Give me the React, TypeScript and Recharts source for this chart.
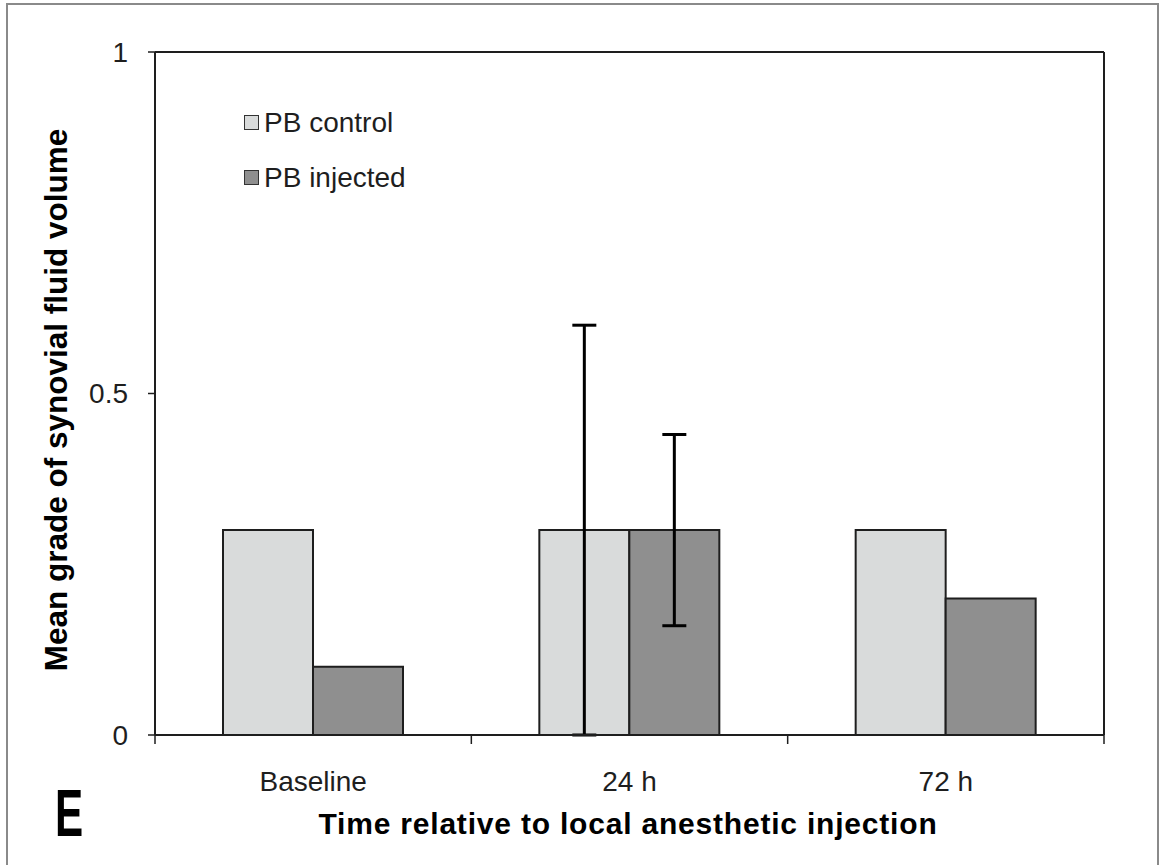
import React from "react";
import {
  BarChart,
  Bar,
  XAxis,
  YAxis,
  ErrorBar,
  Legend,
  ReferenceLine,
} from "recharts";

const categories = ["Baseline", "24 h", "72 h"];
const controlMean = [0.3, 0.3, 0.3];
const controlErr = [0, 0.3, 0];
const injectedMean = [0.1, 0.3, 0.2];
const injectedErr = [0, 0.14, 0];
const yTicks = [0, 0.5, 1];

const FONT = "'Liberation Sans', Arial, sans-serif";
const LIGHT = "#d9dbdb";
const DARK = "#8f8f8f";
const INK = "#1e1e1e";
const LABEL_GAP = 36;

const data = categories.map((name, i) => ({
  name,
  control: controlMean[i],
  controlErr: controlErr[i],
  injected: injectedMean[i],
  injectedErr: injectedErr[i],
}));

function LegendBox({ payload }: any) {
  return (
    <div style={{ fontFamily: FONT, fontSize: 28, color: INK }}>
      {(payload || []).map((p: any) => (
        <div
          key={p.value}
          style={{ display: "flex", alignItems: "center", height: 55 }}
        >
          <span
            style={{
              display: "inline-block",
              width: 13,
              height: 13,
              background: p.color,
              border: "1.5px solid #333",
              marginRight: 5,
            }}
          />
          {p.value}
        </div>
      ))}
    </div>
  );
}

// category label, plus tick marks on the band edges (Excel style)
function CategoryTick(props: any) {
  const { x, y, payload, width, visibleTicksCount, index } = props;
  const half =
    payload && payload.offset ? payload.offset : width / visibleTicksCount / 2;
  const axisY = y - LABEL_GAP;
  return (
    <g>
      <line
        x1={x + half}
        x2={x + half}
        y1={axisY - 1}
        y2={axisY + 9}
        stroke={INK}
        strokeWidth={1.5}
      />
      {index === 0 && (
        <line
          x1={x - half}
          x2={x - half}
          y1={axisY - 1}
          y2={axisY + 9}
          stroke={INK}
          strokeWidth={1.5}
        />
      )}
      <text
        x={x}
        y={y}
        dy="0.71em"
        textAnchor="middle"
        fontSize={28}
        fill={INK}
        fontFamily={FONT}
      >
        {payload.value}
      </text>
    </g>
  );
}

export default function App() {
  return (
    <div
      style={{
        position: "absolute",
        left: 0,
        top: 0,
        width: 1160,
        height: 865,
        background: "#fff",
        overflow: "hidden",
      }}
    >
      <div
        style={{
          position: "absolute",
          left: 6,
          top: 3,
          width: 1149,
          height: 900,
          border: "2px solid #8a8a8a",
        }}
      />
      <BarChart
        width={1160}
        height={865}
        data={data}
        margin={{ top: 52, right: 55, left: 75, bottom: 129 }}
        barCategoryGap={68}
        barGap={0}
        style={{ position: "absolute", left: 0, top: 0 }}
      >
        <XAxis
          dataKey="name"
          height={1}
          interval={0}
          tickLine={false}
          tickSize={0}
          tickMargin={LABEL_GAP}
          axisLine={{ stroke: INK, strokeWidth: 2 }}
          tick={<CategoryTick />}
        />
        <YAxis
          width={80}
          domain={[0, 1]}
          ticks={yTicks}
          interval={0}
          tickSize={7}
          tickMargin={20}
          axisLine={{ stroke: INK, strokeWidth: 2 }}
          tickLine={{ stroke: INK, strokeWidth: 1.5 }}
          tick={{ fontSize: 28, fill: INK, fontFamily: FONT }}
        />
        <YAxis
          yAxisId="frame"
          orientation="right"
          width={1}
          domain={[0, 1]}
          tick={false}
          tickLine={false}
          axisLine={{ stroke: INK, strokeWidth: 2 }}
        />
        <ReferenceLine y={1} stroke={INK} strokeWidth={2} />
        <Legend
          layout="vertical"
          verticalAlign="middle"
          align="center"
          content={<LegendBox />}
          wrapperStyle={{ left: 244, top: 95, width: 260 }}
        />
        <Bar
          dataKey="control"
          name="PB control"
          fill={LIGHT}
          stroke={INK}
          strokeWidth={2}
          isAnimationActive={false}
        >
          <ErrorBar
            dataKey="controlErr"
            width={12}
            stroke="#000"
            strokeWidth={3}
            direction="y"
          />
        </Bar>
        <Bar
          dataKey="injected"
          name="PB injected"
          fill={DARK}
          stroke={INK}
          strokeWidth={2}
          isAnimationActive={false}
        >
          <ErrorBar
            dataKey="injectedErr"
            width={12}
            stroke="#000"
            strokeWidth={3}
            direction="y"
          />
        </Bar>
      </BarChart>
      <svg
        width={1160}
        height={865}
        style={{ position: "absolute", left: 0, top: 0, pointerEvents: "none" }}
      >
        <text
          transform="translate(67,400) rotate(-90)"
          textAnchor="middle"
          fontFamily={FONT}
          fontWeight="bold"
          fontSize={31.5}
          fill="#000"
        >
          Mean grade of synovial fluid volume
        </text>
        <text
          x={628}
          y={834}
          textAnchor="middle"
          fontFamily={FONT}
          fontWeight="bold"
          fontSize={30}
          letterSpacing={0.8}
          fill="#000"
        >
          Time relative to local anesthetic injection
        </text>
        <text
          transform="translate(55,836) scale(0.66,1.03)"
          fontFamily={FONT}
          fontWeight="bold"
          fontSize={64}
          fill="#000"
        >
          E
        </text>
      </svg>
    </div>
  );
}
